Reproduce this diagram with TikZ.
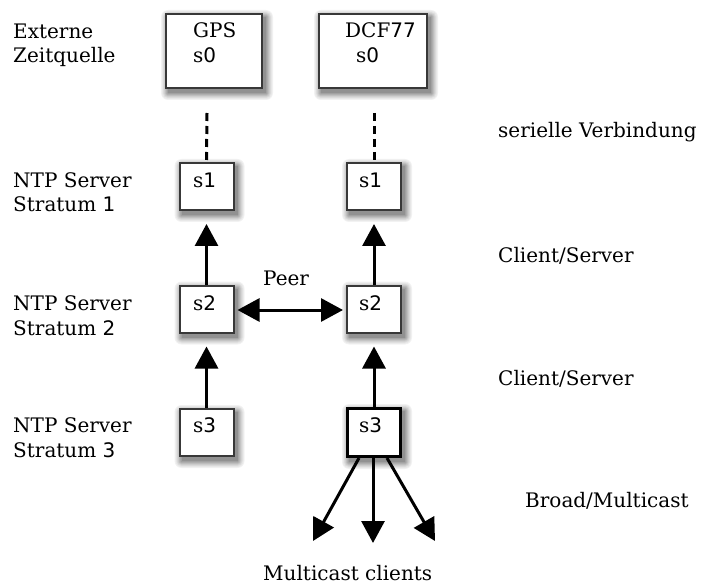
\documentclass[tikz,border=0pt]{standalone}
\usepackage{fontspec}
\setmainfont{DejaVu Serif}
\newfontfamily\digfont{DejaVu Sans}
\newcommand{\dg}[1]{{\digfont #1}}
\usetikzlibrary{arrows.meta}
\pgfdeclarelayer{background}
\pgfsetlayers{background,main}

\tikzset{
  box/.style={draw=black!78, line width=2pt, fill=white, inner sep=0pt},
  srcbox/.style={box, minimum height=74pt},
  srvbox/.style={box, minimum width=54pt, minimum height=47pt},
  lbl/.style={inner sep=0pt, anchor=base west, align=left},
  link/.style={line width=3pt, -{Triangle[width=23pt,length=22pt]}},
  peerlink/.style={line width=3pt, {Triangle[width=23pt,length=22pt]}-{Triangle[width=23pt,length=22pt]}},
  serial/.style={line width=3pt, dash pattern=on 8pt off 5pt},
}

% soft shadow below and right of a box, built from stacked grey layers
\newcommand{\softshadow}[1]{%
  \begin{pgfonlayer}{background}
    \foreach \r/\c in {7/5,6/9,5/14,4/19,3/25,2/31,1/37,0/43}
      \fill[black!\c, rounded corners=\r pt]
        ([shift={(3-\r,4-\r)}]#1.north west) rectangle ([shift={(3+\r,4+\r)}]#1.south east);
  \end{pgfonlayer}}

\begin{document}
\begin{tikzpicture}[x=1pt, y=-1pt, font=\fontsize{20}{24.5}\selectfont]
\useasboundingbox (0,0) rectangle (701,585);

% external time sources
\node[srcbox, minimum width=96pt] (gps) at (214,51) {};
\node[srcbox, minimum width=108pt] (dcf) at (373,51) {};
\node[lbl] (gpst) at (193,38) {GPS};
\node[lbl] (gpss) at (193,63) {s\dg{0}};
\node[lbl] (dcft) at (345,38) {DCF\dg{77}};
\node[lbl] (dcfs) at (356,63) {s\dg{0}};

% stratum 1..3 servers
\node[srvbox] (s1a) at (206.5,186.5) {};
\node[srvbox] (s1b) at (374,186.5) {};
\node[srvbox] (s2a) at (206.5,309) {};
\node[srvbox] (s2b) at (374,309) {};
\node[srvbox] (s3a) at (206.5,432.5) {};
\node[srvbox, draw=black, line width=3pt, minimum width=53pt, minimum height=48pt] (s3b) at (374,432.5) {};

\node[lbl] (s1at) at (193,188) {s\dg{1}};
\node[lbl] (s1bt) at (359,188) {s\dg{1}};
\node[lbl] (s2at) at (193,310) {s\dg{2}};
\node[lbl] (s2bt) at (359,310) {s\dg{2}};
\node[lbl] (s3at) at (193,432) {s\dg{3}};
\node[lbl] (s3bt) at (359,432) {s\dg{3}};

\softshadow{gps}
\softshadow{dcf}
\softshadow{s1a}
\softshadow{s1b}
\softshadow{s2a}
\softshadow{s2b}
\softshadow{s3a}
\softshadow{s3b}

% serial lines
\coordinate (gpsd) at (207,113);
\coordinate (dcfd) at (374,113);
\draw[serial] (gpsd) -- (s1a.north);
\draw[serial] (dcfd) -- (s1b.north);

% client/server and peer links
\draw[link, shorten >=13pt] (s2a.north) -- (s1a.south);
\draw[link, shorten >=13pt] (s2b.north) -- (s1b.south);
\draw[link, shorten >=13pt] (s3a.north) -- (s2a.south);
\draw[link, shorten >=13pt] (s3b.north) -- (s2b.south);
\draw[peerlink, shorten <=3pt, shorten >=3pt] ([yshift=-1pt]s2a.east) -- ([yshift=-1pt]s2b.west);

% multicast fan-out
\coordinate (mc1) at (313,541);
\coordinate (mc2) at (373,543);
\coordinate (mc3) at (435,541);
\draw[link] ([xshift=-15pt]s3b.south) -- (mc1);
\draw[link] ([xshift=-1pt]s3b.south) -- (mc2);
\draw[link] ([xshift=13pt]s3b.south) -- (mc3);

% left column labels (anchored at the baseline of the last line)
\node[lbl] (l0) at (13,63) {Externe\\Zeitquelle};
\node[lbl] (l1) at (13,212) {NTP Server\\Stratum \dg{1}};
\node[lbl] (l2) at (13,335) {NTP Server\\Stratum \dg{2}};
\node[lbl] (l3) at (13,457) {NTP Server\\Stratum \dg{3}};

% right column labels
\node[lbl] (r0) at (498,138) {serielle Verbindung};
\node[lbl] (r1) at (498,262) {Client/Server};
\node[lbl] (r2) at (498,385) {Client/Server};
\node[lbl] (r3) at (525,507) {Broad/Multicast};
\node[lbl] (peer) at (263,285) {Peer};
\node[lbl] (mcc) at (263,580) {Multicast clients};
\end{tikzpicture}
\end{document}
